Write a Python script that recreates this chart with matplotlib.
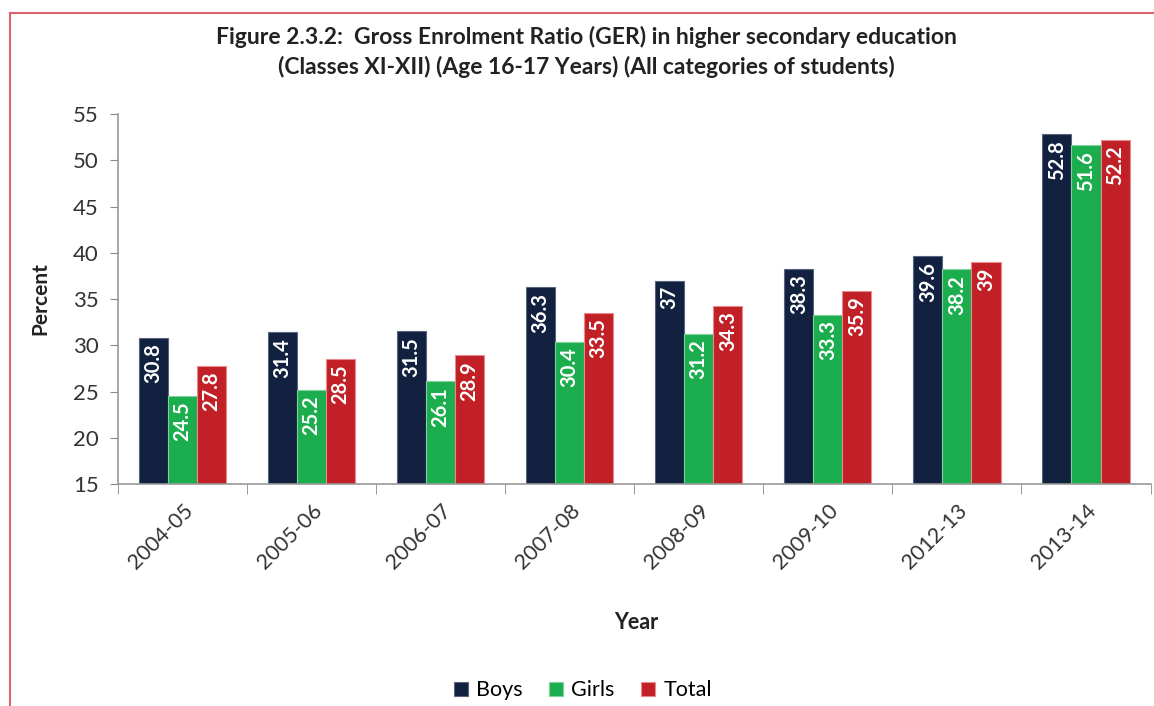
import numpy as np
import matplotlib.pyplot as plt
from matplotlib.lines import Line2D

plt.rcParams['font.family'] = ['Lato', 'DejaVu Sans']

years = ["2004-05", "2005-06", "2006-07", "2007-08", "2008-09", "2009-10", "2012-13", "2013-14"]
boys = [30.8, 31.4, 31.5, 36.3, 37.0, 38.3, 39.6, 52.8]
girls = [24.5, 25.2, 26.1, 30.4, 31.2, 33.3, 38.2, 51.6]
total = [27.8, 28.5, 28.9, 33.5, 34.3, 35.9, 39.0, 52.2]
boys_lbl = ["30.8", "31.4", "31.5", "36.3", "37", "38.3", "39.6", "52.8"]
girls_lbl = ["24.5", "25.2", "26.1", "30.4", "31.2", "33.3", "38.2", "51.6"]
total_lbl = ["27.8", "28.5", "28.9", "33.5", "34.3", "35.9", "39", "52.2"]

series = [
    ("Boys", boys, boys_lbl, "#12213F", "#5a6480"),
    ("Girls", girls, girls_lbl, "#1BAD4E", "#7fd39a"),
    ("Total", total, total_lbl, "#C02026", "#e88a8e"),
]

fig = plt.figure(figsize=(11.54, 7.06), dpi=100)
ax = fig.add_axes([0.1023, 0.3144, 0.8947, 0.5241])

x = np.arange(len(years))
w = 0.225
bottom = 15
for i, (name, vals, lbls, col, edge) in enumerate(series):
    xs = x + (i - 1) * w
    h = np.array(vals) - bottom
    ax.bar(xs, h, w, bottom=bottom, color=col, edgecolor=edge, linewidth=0.8, label=name)
    for xi, v, t in zip(xs, vals, lbls):
        ax.text(xi, v - 0.6, t, rotation=90, ha='center', va='top', color='white',
                fontsize=14.5, fontweight='bold')

ax.set_xlim(-0.5, len(years) - 0.5)
ax.set_ylim(15, 55)
ax.set_yticks(range(15, 56, 5))
ax.tick_params(axis='y', labelsize=16, length=6, color='#888888', labelcolor='#333333', pad=8)
ax.set_xticks(x)
ax.set_xticklabels(years, rotation=45, ha='right', rotation_mode='anchor', fontsize=15.5, color='#333333')
ax.tick_params(axis='x', length=0, pad=12)
ax.set_xticks(np.arange(len(years) + 1) - 0.5, minor=True)
ax.tick_params(axis='x', which='minor', length=7, color='#888888')
for s in ['top', 'right']:
    ax.spines[s].set_visible(False)
for s in ['left', 'bottom']:
    ax.spines[s].set_color('#999999')
    ax.spines[s].set_linewidth(1.2)

ax.set_ylabel("Percent", fontsize=15, fontweight='bold', color='#222222', labelpad=16)
fig.text(0.551, 0.118, "Year", ha='center', va='center', fontsize=15.5, fontweight='bold', color='#222222')

fig.text(0.508, 0.948, "Figure 2.3.2:  Gross Enrolment Ratio (GER) in higher secondary education",
         ha='center', va='center', fontsize=16.5, fontweight='bold', color='#222222')
fig.text(0.508, 0.905, "(Classes XI-XII) (Age 16-17 Years) (All categories of students)",
         ha='center', va='center', fontsize=16.5, fontweight='bold', color='#222222')

fig.legend(loc='center', bbox_to_anchor=(0.505, 0.022), ncol=3, frameon=False, fontsize=15.5,
           handlelength=0.65, handleheight=0.65, handletextpad=0.4, columnspacing=1.2)

border = '#D9646C'
fig.add_artist(Line2D([0.0087, 1.0], [0.9816, 0.9816], color=border, lw=1.5))
fig.add_artist(Line2D([0.0087, 0.0087], [0.0, 0.9816], color=border, lw=1.5))

fig.savefig("out.png", dpi=100)
